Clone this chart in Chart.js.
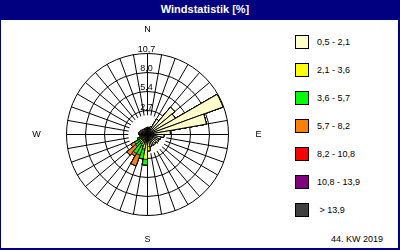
<!DOCTYPE html>
<html>
<head>
<meta charset="utf-8">
<script src="https://cdn.jsdelivr.net/npm/chart.js@4/dist/chart.umd.min.js"></script>
<style>
  html, body { margin: 0; padding: 0; background: #fff; }
  #frame { position: relative; width: 400px; height: 250px; background: #000080; overflow: hidden;
           font-family: "Liberation Sans", Arial, sans-serif; }
  #title { position: absolute; left: 0; top: 0; width: 400px; height: 20px; line-height: 19px;
           box-sizing: border-box; padding-left: 10px; text-align: center; color: #fff;
           font-weight: bold; font-size: 11px; }
  #panel { position: absolute; left: 1px; top: 20px; width: 397px; height: 228px; background: #fff; }
  #chart { position: absolute; left: 1px; top: 20px; }
  .lg-box { position: absolute; width: 12px; height: 12px; border: 1px solid #000; }
  .lg-text { position: absolute; height: 14px; line-height: 14px; font-size: 9px; color: #000; white-space: pre; }
  #footer { position: absolute; right: 17px; top: 233px; height: 13px; line-height: 13px; font-size: 9px; color: #000; }
</style>
</head>
<body>
<div id="frame">
  <div id="title">Windstatistik [%]</div>
  <div id="panel"></div>
  <canvas id="chart" width="269" height="228"></canvas>
  <div id="legend"></div>
  <div id="footer">44. KW 2019</div>
</div>
<script>
// ---- data ----
// wind direction sectors (start of each 10° sector, clockwise from north)
const directions = [0,10,20,30,40,50,60,70,80,90,100,110,120,130,140,150,160,170,
                    180,190,200,210,220,230,240,250,260,270,280,290,300,310,320,330,340,350];
// speed classes (m/s) and their colours
const speedClasses = ['0,5 - 2,1', '2,1 - 3,6', '3,6 - 5,7', '5,7 - 8,2', '8,2 - 10,8', '10,8 - 13,9', ' > 13,9'];
const classColors  = ['#FFFFCC', '#FFFF00', '#00FF00', '#FF8000', '#FF0000', '#800080', '#404040'];
// frequency [%] per direction sector for each speed class
const speed05to21  = [0.3,0.3,0.5,1.8,4.3,3.8,10.6,7.7,2.5,1.6,1.2,1.0,1.1,0.9,1.0,0.9,1.0,1.0,
                      0.4,0.4,0.4,0.3,0.3,0.3,0.3,0.3,0.4,0.5,0.5,0.4,0.3,0.3,0.2,0.2,0.2,0.2];
const speed21to36  = [0,0,0,0,0,0,0,0,0,0,0,0,0,0,0,0,0,0.6,
                      2.4,1.0,0.6,0.5,0.4,0.3,0.2,0,0,0,0,0,0,0,0,0,0,0];
const speed36to57  = [0,0,0,0,0,0,0,0,0,0,0,0,0,0,0,0,0,0,
                      0.8,1.4,1.4,1.6,0.8,0.8,0.3,0,0,0,0,0,0,0,0,0,0,0];
const speed57to82  = [0,0,0,0,0,0,0,0,0,0,0,0,0,0,0,0,0,0,
                      0,0,1.6,0.4,1.6,0.6,0,0,0,0,0,0,0,0,0,0,0,0];
const speed82to108 = [0,0,0,0,0,0,0,0,0,0,0,0,0,0,0,0,0,0,0,0,0,0,0,0,0,0,0,0,0,0,0,0,0,0,0,0];
const speed108to139= [0,0,0,0,0,0,0,0,0,0,0,0,0,0,0,0,0,0,0,0,0,0,0,0,0,0,0,0,0,0,0,0,0,0,0,0];
const speedOver139 = [0,0,0,0,0,0,0,0,0,0,0,0,0,0,0,0,0,0,0,0,0,0,0,0,0,0,0,0,0,0,0,0,0,0,0,0];
const classSeries = [speed05to21, speed21to36, speed36to57, speed57to82, speed82to108, speed108to139, speedOver139];
// radial axis
const tickValues = [2.675, 5.35, 8.025, 10.7];
const tickLabels = ['2,7', '5,4', '8,0', '10,7'];
const axisMin = -0.7;
const axisMax = 10.7;
const calmHole = 2.0;
const compass = [['N', 0], ['E', 90], ['S', 180], ['W', 270]];

// ---- build stacked (cumulative) polar table ----
const sectorLabels = directions.map(d => d + '°');
const cumulative = classSeries.map((_, k) =>
  directions.map((_, d) => { let t = 0; for (let j = 0; j <= k; j++) t += classSeries[j][d]; return +t.toFixed(3); }));
const datasets = cumulative.map((cum, k) => ({
  label: speedClasses[k],
  data: cum,
  backgroundColor: classColors[k],
  borderColor: '#000',
  borderWidth: 1
}));

// ---- legend (HTML) ----
const legend = document.getElementById('legend');
speedClasses.forEach((lab, k) => {
  const top = 35 + k * 28;
  const b = document.createElement('div');
  b.className = 'lg-box'; b.style.left = '295px'; b.style.top = top + 'px'; b.style.background = classColors[k];
  const t = document.createElement('div');
  t.className = 'lg-text'; t.style.left = '317px'; t.style.top = top + 'px'; t.textContent = lab;
  legend.appendChild(b); legend.appendChild(t);
});

const FONT = '9px "Liberation Sans", Arial, sans-serif';
const rosePlugin = {
  id: 'rose',
  beforeDraw(chart) { chart.ctx.save(); chart.ctx.translate(0.5, 0.5); },
  beforeDatasetsDraw(chart) {
    const r = chart.scales.r, ctx = chart.ctx;
    ctx.save();
    // tick labels sitting on top of their rings, along the north axis
    ctx.fillStyle = '#000';
    ctx.font = FONT;
    ctx.textAlign = 'center';
    ctx.textBaseline = 'bottom';
    tickValues.forEach((v, i) => {
      ctx.fillText(tickLabels[i], r.xCenter - 1, r.yCenter - r.getDistanceFromCenterForValue(v) + 1);
    });
    // calm circle
    ctx.fillStyle = '#fff';
    ctx.beginPath();
    ctx.arc(r.xCenter, r.yCenter, r.getDistanceFromCenterForValue(calmHole), 0, Math.PI * 2);
    ctx.fill();
    ctx.restore();
  },
  afterDraw(chart) {
    const r = chart.scales.r, ctx = chart.ctx;
    const step = 360 / chart.data.labels.length;
    ctx.save();
    ctx.fillStyle = '#000';
    ctx.font = FONT;
    ctx.textAlign = 'center';
    ctx.textBaseline = 'middle';
    compass.forEach(([lab, deg]) => {
      const gap = (deg % 180 === 0) ? 24 : 30;
      const p = r.getPointPosition(deg / step, r.drawingArea + gap);
      ctx.fillText(lab, p.x, p.y);
    });
    ctx.restore();
    ctx.restore();
  }
};

new Chart(document.getElementById('chart'), {
  type: 'polarArea',
  data: { labels: sectorLabels, datasets },
  options: {
    responsive: false,
    animation: false,
    devicePixelRatio: 1,
    layout: { padding: { left: 65, right: 42, top: 33, bottom: 33 } },
    plugins: { legend: { display: false }, tooltip: { enabled: false } },
    scales: {
      r: {
        min: axisMin,
        max: axisMax,
        startAngle: 0,
        afterBuildTicks: (scale) => {
          scale.ticks = [{value: axisMin}].concat(tickValues.map(v => ({value: v})));
        },
        ticks: { display: false },
        grid: { display: true, circular: true, color: '#000', lineWidth: 1 },
        angleLines: { display: true, color: '#000', lineWidth: 1 },
        pointLabels: { display: false }
      }
    }
  },
  plugins: [rosePlugin]
});
</script>
</body>
</html>
